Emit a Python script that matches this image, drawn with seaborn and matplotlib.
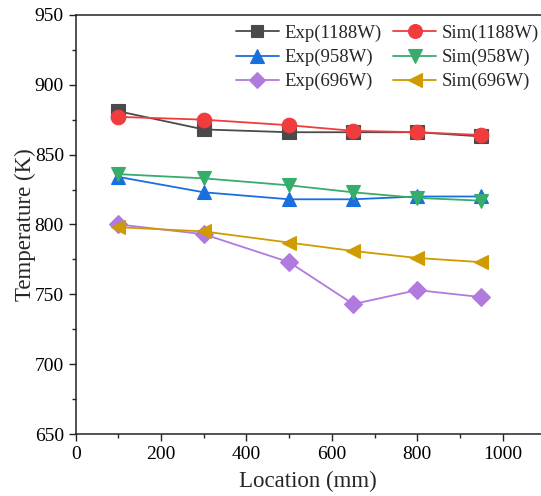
import numpy as np
import pandas as pd
import seaborn as sns
import matplotlib.pyplot as plt
from matplotlib.ticker import MultipleLocator

# Data
location = [100, 300, 500, 650, 800, 950]
exp_1188 = [881, 868, 866, 866, 866, 863]
sim_1188 = [877, 875, 871, 867, 866, 864]
exp_958 = [834, 823, 818, 818, 820, 820]
sim_958 = [836, 833, 828, 823, 819, 817]
exp_696 = [800, 793, 773, 743, 753, 748]
sim_696 = [798, 795, 787, 781, 776, 773]

series_names = ["Exp(1188W)", "Sim(1188W)", "Exp(958W)", "Sim(958W)", "Exp(696W)", "Sim(696W)"]
series_values = [exp_1188, sim_1188, exp_958, sim_958, exp_696, sim_696]
colors = ["#4a4a4a", "#f03c3c", "#1a6fdf", "#37ad6b", "#b07ade", "#d09b00"]
markers = ["s", "o", "^", "v", "D", "<"]
msizes = [9.5, 10.5, 10.5, 10.5, 9, 10.5]

sns.set_theme(style="ticks")
plt.rcParams['font.family'] = ['Liberation Serif', 'DejaVu Serif']

fig = plt.figure(figsize=(5.41, 4.96), dpi=100)
ax = fig.add_axes([0.14, 0.125, 0.86, 0.845])

for name, vals, c, m, ms in zip(series_names, series_values, colors, markers, msizes):
    df = pd.DataFrame({"Location": location, "Temperature": vals})
    sns.lineplot(data=df, x="Location", y="Temperature", ax=ax, color=c, marker=m,
                 markersize=ms, markeredgecolor=c, markeredgewidth=0.8, linewidth=1.3,
                 label=name)

ax.set_xlim(0, 1090)
ax.set_ylim(650, 950)
ax.xaxis.set_major_locator(MultipleLocator(200))
ax.xaxis.set_minor_locator(MultipleLocator(100))
ax.yaxis.set_major_locator(MultipleLocator(50))
ax.yaxis.set_minor_locator(MultipleLocator(25))
ax.tick_params(which='major', direction='out', length=5, width=1, labelsize=14, colors='#222222')
ax.tick_params(which='minor', direction='out', length=3, width=1)
ax.tick_params(labelcolor='black')

for s in ['left', 'bottom', 'top']:
    ax.spines[s].set_color('#222222')
    ax.spines[s].set_linewidth(1.1)
ax.spines['right'].set_visible(False)

ax.set_xlabel("Location (mm)", fontsize=16.5, labelpad=6)
ax.set_ylabel("Temperature (K)", fontsize=16.5, labelpad=-1)

# legend filled row by row: Exp / Sim pairs
handles, labels = ax.get_legend_handles_labels()
order = [0, 2, 4, 1, 3, 5]
ax.legend([handles[i] for i in order], [labels[i] for i in order],
          loc='upper left', bbox_to_anchor=(0.436, 0.950), bbox_transform=fig.transFigure,
          ncol=2, frameon=False, fontsize=13.5, borderpad=0, borderaxespad=0,
          handlelength=2.3, handletextpad=0.3, columnspacing=0.6, labelspacing=0.36,
          markerscale=0.95)

fig.savefig("out.png", dpi=100)
